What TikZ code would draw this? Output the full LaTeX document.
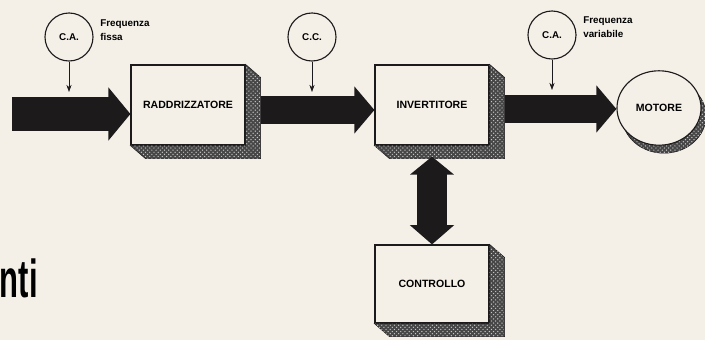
\documentclass[tikz,border=0pt]{standalone}
\usepackage{fontspec}
\setmainfont{Liberation Sans}
\usetikzlibrary{positioning, calc, arrows.meta, patterns, shapes.geometric}
\definecolor{paper}{HTML}{F4F0E8}
\definecolor{ink}{HTML}{1C1A1A}
\tikzset{
    block/.style={draw=ink, thick, fill=paper, minimum width=2.85cm, minimum height=2cm, inner sep=0pt, font=\fontsize{7.5}{9}\bfseries}, % front face of a unit
    supply/.style={circle, draw=ink, thick, minimum size=1.2cm, inner sep=0pt, font=\fontsize{7}{8}\bfseries}, % supply circles
    sideface/.style={fill=black!72, draw=ink, postaction={pattern=crosshatch dots, pattern color=gray!45}}, % extruded sides
    fatarrow/.style={draw=ink, line width=0.675cm, -{Triangle[length=0.5cm, width=1.15cm]}},
    feed/.style={-{Stealth[length=1.8mm, width=1.3mm]}, thin, draw=ink},
    note/.style={anchor=west, align=left, inner sep=0pt, font=\fontsize{7}{10}\bfseries},
}
\newcommand{\extrude}[1]{\path[sideface] (#1.north east) -- ++(15,13) -- ($(#1.south east)+(15,13)$) -- ($(#1.south west)+(15,13)$) -- (#1.south west) -- (#1.south east) -- cycle;}

\begin{document}
\begin{tikzpicture}[x=0.025cm, y=-0.025cm]
  \fill[paper] (0,0) rectangle (705,340);
  \useasboundingbox (0,0) rectangle (705,340);

  \node[anchor=base east, inner sep=0pt, font=\fontsize{38}{38}\bfseries] (head) at (38,298) {\scalebox{0.58}[1]{nti}};

  \path[sideface] (664,116) ellipse [x radius=1.05cm, y radius=0.93cm];

  \node[block] (raddr) at (188,105) {RADDRIZZATORE};
  \node[block] (inv) at (432,105) {INVERTITORE};
  \node[block, minimum height=1.95cm] (ctrl) at (432,284) {CONTROLLO};
  \node[ellipse, draw=ink, thick, fill=paper, minimum width=2.1cm, minimum height=1.86cm, inner sep=0pt, font=\fontsize{7.5}{9}\bfseries] (motor) at (659,108) {MOTORE};
  \extrude{raddr}
  \extrude{inv}
  \extrude{ctrl}

  \node[supply] (ca1) at (69,37) {C.A.};
  \node[supply] (cc) at (312,37) {C.C.};
  \node[supply] (ca2) at (552,35) {C.A.};
  \node[note] (fq1) at (100,30) {Frequenza\\fissa};
  \node[note] (fq2) at (583,27) {Frequenza\\variabile};

  \coordinate (src) at (12,114);
  \coordinate (a2) at ($(raddr.east)+(15,5)$);
  \coordinate (a3) at ($(inv.east)+(15,4)$);
  \draw[fatarrow, line width=0.825cm, -{Triangle[length=0.55cm, width=1.3cm]}] (src) -- (raddr.west |- src);
  \draw[fatarrow] (a2) -- (inv.west |- a2);
  \draw[fatarrow] (a3) -- (motor.west |- a3);
  \draw[draw=ink, line width=0.725cm, {Triangle[length=0.45cm, width=1.075cm]}-{Triangle[length=0.48cm, width=1.075cm]}] ($(inv.south)+(0,11)$) -- (ctrl.north);

  \coordinate (f1) at (69,92);
  \coordinate (f2) at (312,92);
  \coordinate (f3) at (552,90);
  \draw[feed] (ca1) -- (f1);
  \draw[feed] (cc) -- (f2);
  \draw[feed] (ca2) -- (f3);
\end{tikzpicture}
\end{document}
